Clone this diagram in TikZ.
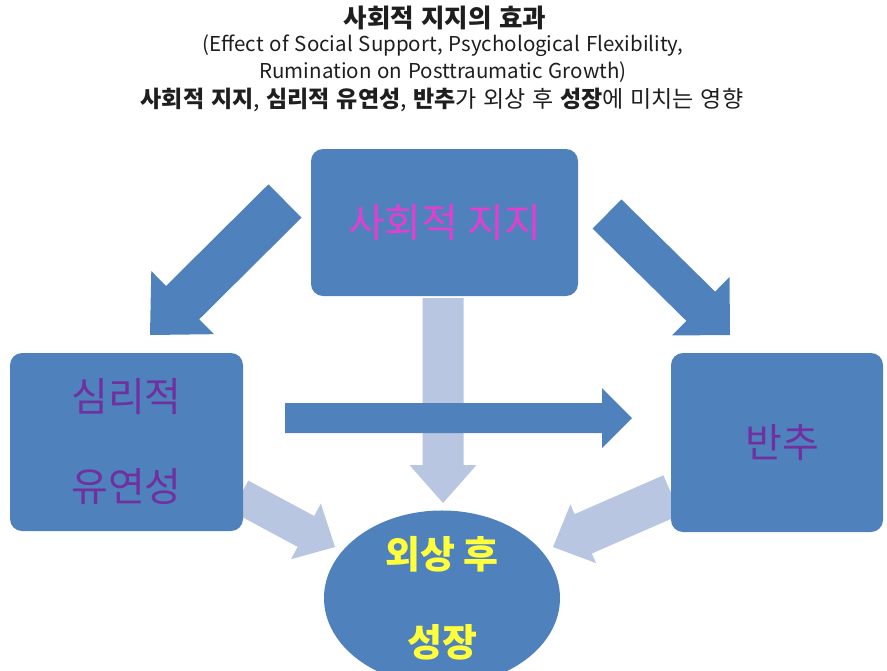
\documentclass[tikz,border=0pt]{standalone}
\usepackage{fontspec}
\setmainfont{Noto Sans CJK KR}
\newfontfamily\headfont[WordSpace=2.6]{Noto Sans CJK KR}
\newfontfamily\subheadfont[WordSpace=2.3]{Noto Sans CJK KR}
\newfontfamily\engspaced[WordSpace=1.3]{Noto Sans CJK KR}
\usetikzlibrary{calc,shapes.geometric}

\definecolor{boxblue}{HTML}{4F81BD}
\definecolor{paleblue}{HTML}{B8C6E1}
\definecolor{pinktext}{HTML}{E23FD0}
\definecolor{violettext}{HTML}{7030A0}
\definecolor{growthyellow}{HTML}{FFFF3C}
\definecolor{titleink}{HTML}{1E1E1E}

% Block arrow: #1 fill style, #2 tail coordinate, #3 tip coordinate,
% #4 half shaft width, #5 half head width, #6 head length
\newcommand\blkarrow[6]{%
  \coordinate (blkbase) at ($(#3)!#6!(#2)$);
  \fill[#1] ($(#2)!#4!90:(#3)$) -- ($(blkbase)!#4!90:(#3)$)
    -- ($(blkbase)!#5!90:(#3)$) -- (#3)
    -- ($(blkbase)!#5!-90:(#3)$) -- ($(blkbase)!#4!-90:(#3)$)
    -- ($(#2)!#4!-90:(#3)$) -- cycle;}

\begin{document}
\begin{tikzpicture}[x=1pt,y=-1pt,
  box/.style={fill=boxblue, rounded corners=12pt, inner sep=0pt, align=center},
  darkarrow/.style={fill=boxblue},
  lightarrow/.style={fill=paleblue},
  titletext/.style={inner sep=0pt, text=titleink}]
\useasboundingbox (0,0) rectangle (887,670);

% title
\node[titletext, font=\headfont\fontsize{25.5}{28}\selectfont\bfseries]
  (t1) at (445,18) {사회적 지지의 효과};
\node[titletext, font=\engspaced\fontsize{20.5}{27}\selectfont, align=center]
  (t2) at (443,59)
  {(Effect of Social Support, Psychological Flexibility,\\Rumination on Posttraumatic Growth)};
\node[titletext, font=\subheadfont\fontsize{23}{26}\selectfont] (t3) at (442,100)
  {\textbf{사회적 지지}, \textbf{심리적 유연성}, \textbf{반추}가 외상 후 \textbf{성장}에 미치는 영향};

% arrow end points
\coordinate (a1s) at (285,201);   \coordinate (a1e) at (150,335);
\coordinate (a2s) at (607,214);   \coordinate (a2e) at (730,335);
\coordinate (a3s) at (285,418);   \coordinate (a3e) at (632,418);
\coordinate (a4s) at (443,298);   \coordinate (a4e) at (443,503);
\coordinate (a5s) at (240,496);   \coordinate (a5e) at (335,547);
\coordinate (a6s) at (672,495);   \coordinate (a6e) at (553,547);

% pale arrows into growth
\blkarrow{lightarrow}{a4s}{a4e}{20.5pt}{33.5pt}{38pt}
\blkarrow{lightarrow}{a5s}{a5e}{17.5pt}{31.5pt}{33pt}
\blkarrow{lightarrow}{a6s}{a6e}{21.5pt}{32pt}{33pt}

% dark arrows
\blkarrow{darkarrow}{a1s}{a1e}{23.5pt}{44.5pt}{46pt}
\blkarrow{darkarrow}{a2s}{a2e}{20.5pt}{41pt}{41pt}
\blkarrow{darkarrow}{a3s}{a3e}{15pt}{30pt}{30pt}

% boxes
\node[box, minimum width=267pt, minimum height=147pt, text=pinktext,
  font=\fontsize{40}{48}\selectfont] (social) at (444.5,222.5) {사회적 지지};
\node[box, minimum width=233pt, minimum height=178pt, text=violettext,
  font=\fontsize{40}{90}\selectfont] (flex) at (126.5,442) {심리적\\유연성};
\node[box, minimum width=212pt, minimum height=179pt, text=violettext,
  font=\fontsize{40}{48}\selectfont] (rum) at (777,442.5) {\hspace{10pt}반추};
\node[ellipse, fill=boxblue, inner sep=0pt, minimum width=236pt, minimum height=146pt,
  text=growthyellow, align=center, font=\fontsize{38}{88}\selectfont\bfseries]
  (growth) at (442,598) {\raisebox{-5pt}{외상 후}\\\raisebox{-5pt}{성장}};
\end{tikzpicture}
\end{document}
